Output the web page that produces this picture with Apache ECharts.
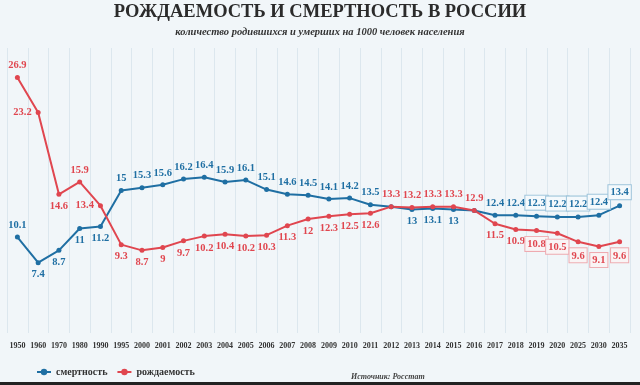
<!DOCTYPE html>
<html><head><meta charset="utf-8">
<script src="https://cdn.jsdelivr.net/npm/echarts@6/dist/echarts.min.js"></script>
<style>html,body{margin:0;padding:0;background:#f1f6f9}#c{width:640px;height:385px}</style>
</head><body><div id="c"></div>
<script>
const categories = ['1950','1960','1970','1980','1990','1995','2000','2001','2002','2003','2004','2005','2006','2007','2008','2009','2010','2011','2012','2013','2014','2015','2016','2017','2018','2019','2020','2025','2030','2035'];
const mortality = [10.1,7.4,8.7,11,11.2,15,15.3,15.6,16.2,16.4,15.9,16.1,15.1,14.6,14.5,14.1,14.2,13.5,13.3,13,13.1,13,12.9,12.4,12.4,12.3,12.2,12.2,12.4,13.4];
const birth = [26.9,23.2,14.6,15.9,13.4,9.3,8.7,9,9.7,10.2,10.4,10.2,10.3,11.3,12,12.3,12.5,12.6,13.3,13.2,13.3,13.3,12.9,11.5,10.9,10.8,10.5,9.6,9.1,9.6];

const BLUE = '#1f6fa3', RED = '#e0464f';
const serif = '"Liberation Serif", "DejaVu Serif", serif';
const forecastStart = 25;

function blueLabel(i){
  if (i === 18 || i === 22) return {show:false};
  let pos = 'top';
  if ((i >= 1 && i <= 4) || (i >= 19 && i <= 21)) pos = 'bottom';
  const l = {show:true, position:pos, distance:4};
  if (i >= forecastStart) Object.assign(l, {borderColor:'#9cc3da', borderWidth:1, backgroundColor:'#f4f9fc', padding:[2,2,1,2]});
  return l;
}
function redLabel(i){
  let pos = 'bottom';
  if (i === 0 || i === 3 || (i >= 18 && i <= 22)) pos = 'top';
  if (i === 1 || i === 4) pos = 'left';
  const l = {show:true, position:pos, distance:4};
  if (i >= forecastStart) Object.assign(l, {borderColor:'#eeaab0', borderWidth:1, backgroundColor:'#f9f4f5', padding:[2,2,1,2]});
  return l;
}

const chart = echarts.init(document.getElementById('c'));
chart.setOption({
  backgroundColor:'#f1f6f9',
  animation:false,
  title:[
    {text:'РОЖДАЕМОСТЬ И СМЕРТНОСТЬ В РОССИИ', left:'center', top:3, padding:0,
     textStyle:{fontFamily:serif, fontSize:18.5, fontWeight:'bold', color:'#2b2b2b'}},
    {text:'количество родившихся и умерших на 1000 человек населения', left:'center', top:27, padding:0,
     textStyle:{fontFamily:serif, fontSize:10.5, fontWeight:'bold', fontStyle:'italic', color:'#333'}},
    {text:'Источник: Росстат', left:351, top:373, padding:0,
     textStyle:{fontFamily:serif, fontSize:8, fontWeight:'bold', fontStyle:'italic', color:'#444'}}
  ],
  legend:{left:31, top:362, itemWidth:14, itemHeight:8, itemGap:9,
    textStyle:{fontFamily:serif, fontSize:10, fontWeight:'bold', color:'#333'},
    data:['смертность','рождаемость']},
  grid:{left:7, right:10, top:48, bottom:52},
  xAxis:{type:'category', data:categories, boundaryGap:true,
    axisLine:{show:false}, axisTick:{show:false},
    axisLabel:{fontFamily:serif, fontSize:8, fontWeight:'bold', color:'#333', margin:9, interval:0},
    splitLine:{show:true, lineStyle:{color:'#dce7ee', width:1}}},
  yAxis:{type:'value', min:0, max:30, show:false, splitLine:{show:false}},
  series:[
    {name:'смертность', type:'line', color:BLUE, symbol:'circle', symbolSize:5,
     lineStyle:{width:2, color:BLUE}, itemStyle:{color:BLUE},
     label:{fontFamily:serif, fontSize:10.5, fontWeight:'bold', color:BLUE},
     data:mortality.map((v,i)=>({value:v, label:blueLabel(i)}))},
    {name:'рождаемость', type:'line', color:RED, symbol:'circle', symbolSize:5,
     lineStyle:{width:2, color:RED}, itemStyle:{color:RED},
     label:{fontFamily:serif, fontSize:10.5, fontWeight:'bold', color:RED},
     data:birth.map((v,i)=>({value:v, label:redLabel(i)}))}
  ],
  graphic:[{type:'rect', left:0, bottom:0, shape:{width:640, height:3}, style:{fill:'#222'}}]
});
</script></body></html>
